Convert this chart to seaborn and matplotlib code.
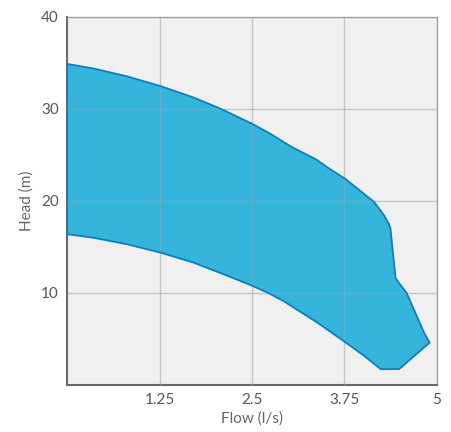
import numpy as np
import pandas as pd
import seaborn as sns
import matplotlib
matplotlib.use("Agg")
import matplotlib.pyplot as plt

# upper curve (max speed), left to right
upper_flow = [0.0, 0.36, 0.81, 1.26, 1.71, 2.07, 2.5, 2.75, 3.02, 3.38, 3.51,
              3.77, 4.01, 4.15, 4.28, 4.35, 4.37]
upper_head = [34.9, 34.4, 33.55, 32.5, 31.25, 30.05, 28.4, 27.3, 25.95, 24.45, 23.7,
              22.35, 20.8, 19.9, 18.5, 17.5, 17.1]

# right edge, top to bottom
edge_flow = [4.44, 4.59, 4.71, 4.83, 4.90, 4.49]
edge_head = [11.6, 10.0, 7.8, 5.6, 4.6, 1.74]

# lower curve (min speed), right to left
lower_flow = [4.24, 4.01, 3.77, 3.38, 2.93, 2.72, 2.5, 2.16, 1.71, 1.26, 0.81, 0.36, 0.0]
lower_head = [1.72, 3.2, 4.6, 6.8, 9.1, 10.0, 10.8, 11.9, 13.3, 14.4, 15.3, 16.0, 16.4]

x_ticks = [1.25, 2.5, 3.75, 5]
x_labels = ["1.25", "2.5", "3.75", "5"]
y_ticks = [10, 20, 30, 40]

fill_col = "#35b4dc"
edge_col = "#0a7fc2"

sns.set_style("white")
plt.rcParams["font.family"] = ["Lato", "DejaVu Sans"]

outline = pd.DataFrame({
    "flow": upper_flow + edge_flow + lower_flow + upper_flow[:1],
    "head": upper_head + edge_head + lower_head + upper_head[:1],
})

fig = plt.figure(figsize=(4.52, 4.32), dpi=100)
ax = fig.add_axes([67 / 452, 47 / 432, 370 / 452, 368 / 432])
ax.set_facecolor("#f0f0f0")

ax.fill(outline["flow"], outline["head"], color=fill_col, zorder=2, lw=0)
sns.lineplot(data=outline, x="flow", y="head", sort=False, estimator=None,
             color=edge_col, lw=1.3, ax=ax, zorder=3)

ax.set_xlim(0, 5)
ax.set_ylim(0, 40)
ax.set_xticks(x_ticks)
ax.set_xticklabels(x_labels)
ax.set_yticks(y_ticks)

ax.grid(True, color="#a3a3a3", lw=1.0, zorder=1)
ax.set_axisbelow(False)
for gl in ax.get_xgridlines() + ax.get_ygridlines():
    gl.set_zorder(2.5)
    gl.set_alpha(0.55)

ax.tick_params(direction="in", length=9, width=1.8, color="#444444",
               labelsize=11, labelcolor="#555555", pad=6)

for side in ["left", "bottom"]:
    ax.spines[side].set_color("#6a6a6a")
    ax.spines[side].set_linewidth(1.5)
for side in ["top", "right"]:
    ax.spines[side].set_color("#a3a3a3")
    ax.spines[side].set_linewidth(1.0)

ax.set_xlabel("Flow (l/s)", fontsize=11, color="#666666", labelpad=3)
ax.set_ylabel("Head (m)", fontsize=11, color="#666666", labelpad=5)

fig.savefig("out.png", dpi=100)
